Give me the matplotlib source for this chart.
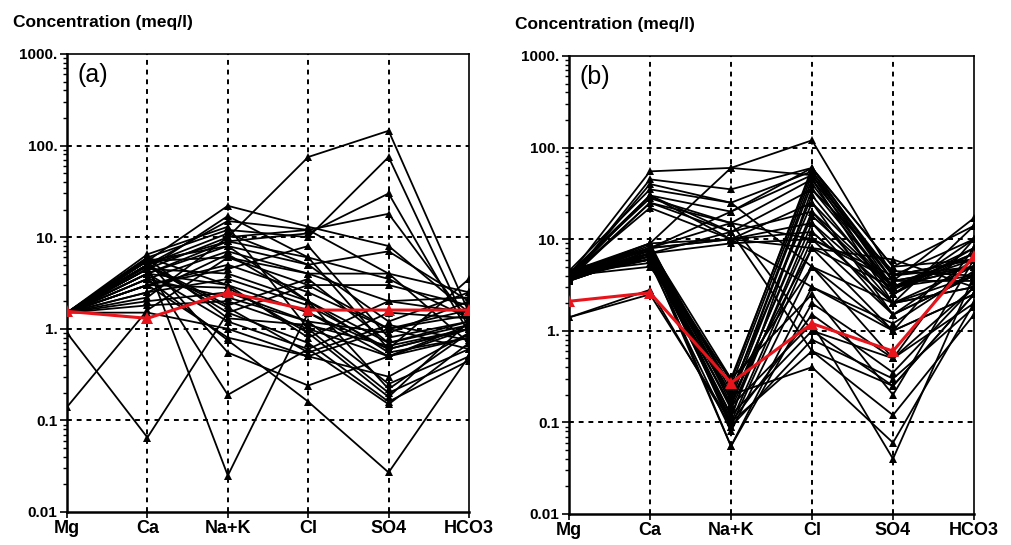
import matplotlib
matplotlib.use("Agg")
import matplotlib.pyplot as plt
from matplotlib.ticker import LogLocator, NullFormatter

ions = ["Mg", "Ca", "Na+K", "Cl", "SO4", "HCO3"]
ytick_vals = [0.01, 0.1, 1, 10, 100, 1000]
ytick_text = ["0.01", "0.1", "1.", "10.", "100.", "1000."]

# panel (a): one entry per sample in each list
mg_a = [1.5, 1.5, 1.5, 1.5, 1.5, 1.5, 1.5, 1.5, 1.5, 1.5, 1.5, 1.5, 1.5, 1.5, 1.5, 1.5, 1.5, 1.5,
        1.5, 1.5, 0.9, 0.14, 1.5, 1.5, 1.5, 1.5, 1.5, 1.5, 1.5, 1.5, 1.5, 1.5, 1.5, 1.5, 1.5, 1.5,
        1.5, 1.5]
ca_a = [5.5, 4.5, 5.0, 6.0, 5.0, 4.0, 3.5, 5.5, 3.0, 4.5, 2.5, 6.0, 2.0, 1.8, 5.0, 4.0, 3.0, 5.5,
        4.5, 5.0, 0.065, 1.6, 3.5, 4.0, 5.0, 3.0, 2.5, 6.5, 4.0, 3.5, 5.0, 2.2, 1.5, 4.5, 5.5, 3.0,
        5.8, 4.8]
nak_a = [22, 10, 15, 12, 9, 8, 7, 6, 5, 4, 3.5, 3.0, 2.5, 2.0, 1.5, 1.2, 0.8, 0.55,
         0.19, 0.025, 1.5, 6, 0.75, 9, 11, 4.5, 6.5, 13, 3.0, 2.2, 1.8, 10, 1.0, 17, 8, 2.8,
         1.3, 1.7]
cl_a = [13, 75, 12, 10, 11, 5, 4, 3, 2.5, 2, 1.8, 1.5, 1.2, 1.0, 0.7, 0.6, 0.5, 0.24,
        0.6, 1.5, 3.0, 4, 0.16, 6, 5, 8, 2.0, 1.0, 0.8, 1.2, 3.5, 12, 0.5, 6, 2, 0.9,
        1.1, 0.55]
so4_a = [8, 145, 18, 75, 30, 7, 4, 3, 1.0, 0.7, 0.6, 0.5, 0.25, 0.2, 0.16, 0.15, 0.3, 0.5,
         1.5, 0.6, 1.0, 2, 0.027, 0.6, 1.2, 0.8, 0.55, 0.5, 2.0, 0.9, 0.7, 4, 1.0, 3.5, 0.22, 0.18,
         0.65, 1.1]
hco3_a = [1.5, 1.5, 1.2, 1.0, 0.9, 2.0, 2.5, 1.8, 1.4, 1.2, 1.0, 0.8, 0.6, 0.5, 0.45, 0.7, 0.9, 1.1,
          1.3, 1.0, 1.6, 2.2, 0.5, 3.5, 2.5, 1.2, 0.8, 1.0, 1.5, 2.0, 1.1, 0.7, 0.6, 1.3, 0.9, 1.2,
          1.0, 0.75]
mean_a = [1.55, 1.3, 2.5, 1.6, 1.6, 1.6]

# panel (b)
mg_b = [4.0, 3.5, 4.5, 3.8, 4.2, 3.6, 4.0, 4.4, 3.7, 4.1, 3.9, 4.3, 3.5, 4.0, 3.6, 4.5,
        4.0, 3.8, 4.2, 3.6, 4.4, 3.9, 4.1, 3.7, 4.3, 3.5, 4.0, 4.6, 3.8, 1.4, 4.2, 3.6,
        4.0, 3.9, 4.3, 3.7, 4.1, 4.5, 3.5, 4.0, 1.4, 4.2, 4.2, 3.8, 3.9]
ca_b = [55, 45, 35, 30, 28, 25, 22, 9, 8, 7, 9, 8, 7, 30, 40, 8,
        8, 7, 6.5, 7.5, 6, 7, 6.5, 8, 5.5, 7, 6, 7.5, 6, 2.5, 8, 6.5,
        5, 7, 6, 7.5, 8.5, 6, 7, 6.5, 2.8, 9, 30, 25, 8]
nak_b = [60, 35, 25, 20, 15, 12, 10, 60, 20, 12, 10, 10, 9, 10, 25, 15,
         0.3, 0.25, 0.2, 0.18, 0.15, 0.12, 0.1, 0.09, 0.08, 0.055, 0.055, 0.1, 0.12, 0.1, 0.2, 0.15,
         0.3, 0.25, 0.18, 0.14, 0.22, 0.11, 0.28, 0.2, 0.09, 0.16, 12, 15, 10]
cl_b = [120, 60, 55, 50, 45, 35, 25, 50, 60, 20, 15, 12, 10, 8, 5, 10,
        55, 50, 40, 30, 20, 15, 10, 8, 5, 3, 2, 1.5, 1, 0.6, 0.4, 1.2,
        2.5, 5, 8, 12, 25, 35, 60, 45, 0.8, 18, 0.6, 1.0, 3.0]
so4_b = [4, 3.5, 3, 2.5, 2, 3, 1.5, 4, 5, 3, 2.5, 2, 1.5, 6, 1, 3.5,
         4, 3.5, 3, 2.5, 2, 1.5, 4, 3, 2, 1, 0.5, 0.35, 0.25, 0.12, 0.06, 0.04,
         0.2, 0.5, 1, 2, 3, 4.5, 5, 3.5, 0.3, 2.8, 0.25, 0.5, 1.2]
hco3_b = [6, 5, 4, 8, 3, 5, 4, 10, 14, 6, 7, 5, 4, 3, 2.5, 17,
          6, 5, 8, 10, 4, 6, 5, 7, 3, 2.5, 2, 3, 2.5, 1.5, 2, 4,
          6, 8, 10, 14, 5, 4, 6, 3.5, 1.8, 7, 2.5, 3, 4.5]
mean_b = [2.1, 2.6, 0.27, 1.2, 0.6, 6.5]

panels = [
    ("(a)", [mg_a, ca_a, nak_a, cl_a, so4_a, hco3_a], mean_a),
    ("(b)", [mg_b, ca_b, nak_b, cl_b, so4_b, hco3_b], mean_b),
]
boxes = [[0.0663, 0.0606, 0.3976, 0.8404], [0.5628, 0.0569, 0.4006, 0.8404]]
title_pos = [(0.013, 0.958), (0.509, 0.955)]

font = ["Liberation Sans", "DejaVu Sans"]

fig = plt.figure(figsize=(10.11, 5.45), dpi=100)
x = list(range(len(ions)))

for (label, cols, mean), box, tpos in zip(panels, boxes, title_pos):
    ax = fig.add_axes(box)
    ax.set_yscale("log")
    ax.set_xlim(0, 5)
    ax.set_ylim(0.01, 1000)

    # dashed grid at the decades and at each ion
    for v in [0.1, 1, 10, 100]:
        ax.axhline(v, color="black", lw=1.4, ls=(0, (2.5, 2.5)), zorder=1)
    for xi in x[1:-1]:
        ax.axvline(xi, color="black", lw=1.4, ls=(0, (2.5, 2.5)), zorder=1)

    for i in range(len(cols[0])):
        vals = [c[i] for c in cols]
        ax.plot(x, vals, color="black", lw=1.3, marker="^", ms=5.5,
                markeredgewidth=0, zorder=2)
    ax.plot(x, mean, color="#e8141b", lw=2.2, marker="^", ms=8,
            markeredgewidth=0, zorder=3)

    ax.set_xticks(x)
    ax.set_xticklabels(ions, family=font, fontsize=13, fontweight="bold")
    ax.set_yticks(ytick_vals)
    ax.set_yticklabels(ytick_text, family=font, fontsize=11, fontweight="bold")
    ax.yaxis.set_minor_locator(LogLocator(base=10, subs=range(2, 10), numticks=20))
    ax.yaxis.set_minor_formatter(NullFormatter())
    ax.tick_params(axis="y", which="major", length=5, width=1.2, direction="out", pad=2)
    ax.tick_params(axis="y", which="minor", length=3, width=1.0, direction="out")
    ax.tick_params(axis="x", length=4, width=1.2, direction="out", pad=2)
    for s in ax.spines.values():
        s.set_linewidth(1.2)
    ax.spines["left"].set_linewidth(1.8)
    ax.spines["bottom"].set_linewidth(1.8)

    ax.text(0.025, 0.955, label, transform=ax.transAxes, ha="left", va="center",
            fontsize=18, family=font)
    fig.text(tpos[0], tpos[1], "Concentration (meq/l)", ha="left", va="center",
             fontsize=12.5, fontweight="bold", family=font)

fig.savefig("out.png", dpi=100)
